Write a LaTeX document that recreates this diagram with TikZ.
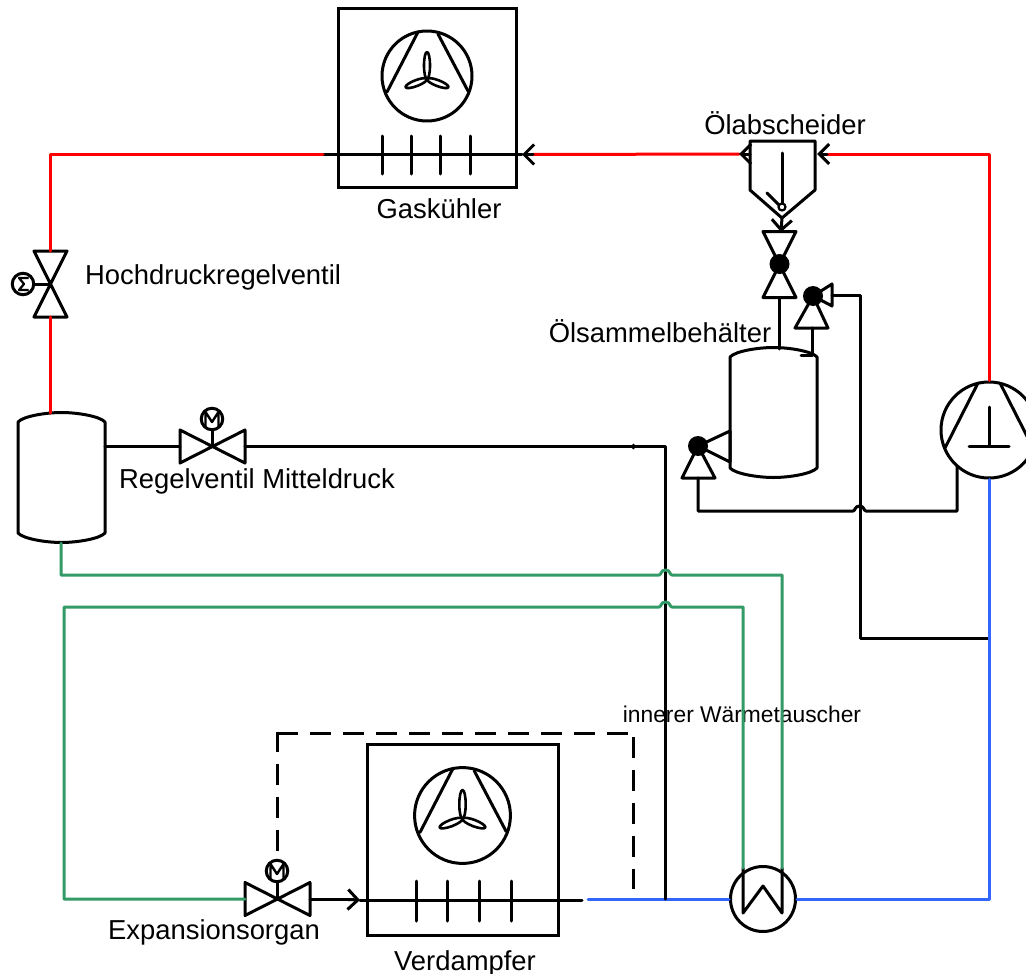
\documentclass[tikz,border=0pt]{standalone}
\usepackage{fontspec}
\setmainfont{Liberation Sans}
\usetikzlibrary{arrows.meta}

\definecolor{hotred}{HTML}{FF0000}
\definecolor{coldblue}{HTML}{3366FF}
\definecolor{midgreen}{HTML}{339966}

\tikzset{
  pipe/.style={black,line width=3pt,line join=round,line cap=round},
  hotpipe/.style={pipe,hotred},
  coldpipe/.style={pipe,coldblue},
  midpipe/.style={pipe,midgreen},
  flow/.style={-{Straight Barb[length=10pt,width=20pt,line width=3pt]}},
  lab/.style={inner sep=0pt,font=\fontsize{27.4}{27}\selectfont},
  smalllab/.style={inner sep=0pt,font=\fontsize{22.8}{23}\selectfont},
  motor/.style={circle,draw,line width=3pt,minimum size=21.5pt,inner sep=0pt},
  ball/.style={circle,fill=black,minimum size=20pt,inner sep=0pt},
  signal/.style={pipe,dash pattern=on 21pt off 12pt,line cap=butt},
  % fan in a circle, cooler and evaporator
  fanwheel/.pic={
    \draw[pipe] (0,0) circle (45);
    \draw[pipe] (-9,-44) -- (-40,16);
    \draw[pipe] (11,-42) -- (41,15);
    \draw[pipe,line width=2.6pt] (0,-10.5) ellipse (3 and 13.5);
    \foreach \ang in {201,339}
      \draw[pipe,line width=2.6pt,rotate around={\ang:(0,3)}] (11.5,3) ellipse (11.5 and 3);
  },
  % valve standing upright
  valveup/.pic={
    \draw[pipe] (-16.5,-33) -- (16.5,-33) -- (-16.5,33) -- (16.5,33) -- cycle;
    \coordinate (-top) at (0,-33);
    \coordinate (-bot) at (0,33);
  },
  % valve lying down
  valveflat/.pic={
    \draw[pipe] (-32.5,-16.5) -- (-32.5,16.5) -- (32.5,-16.5) -- (32.5,16.5) -- cycle;
    \coordinate (-left) at (-32.5,0);
    \coordinate (-right) at (32.5,0);
  },
  % pressure vessel
  vessel/.pic={
    \draw[pipe] (-43.5,-56) .. controls (-38,-62) and (-15,-65.5) .. (0,-65.5)
      .. controls (15,-65.5) and (38,-62) .. (43.5,-56) -- (43.5,55)
      .. controls (38,61) and (15,64.5) .. (0,64.5)
      .. controls (-15,64.5) and (-38,61) .. (-43.5,55) -- cycle;
  },
  % M drive on top of a valve
  mdrive/.pic={
    \draw[pipe,line width=2.4pt] (-6.5,7) -- (-6.5,-7) -- (0,3) -- (6.5,-7) -- (6.5,7);
  }
}

\begin{document}
\begin{tikzpicture}[x=1pt,y=-1pt]
  \useasboundingbox (0,0) rectangle (1026,974);

  % gas cooler
  \node[draw,line width=3pt,minimum width=178pt,minimum height=178pt,inner sep=0pt] (gasbox) at (427,98) {};
  \pic at (427,76) {fanwheel};
  \coordinate (gasin) at (522,154.5);
  \coordinate (gasinr) at (533,154.5);
  \coordinate (gasout) at (323,154.5);
  \draw[pipe] (gasout) -- (gasin);
  \foreach \xx in {382,411,440.5,470}
    \draw[pipe] (\xx,136) -- (\xx,174);
  \node[lab] (gaslabel) at (439,209) {Gaskühler};

  % evaporator
  \node[draw,line width=3pt,minimum width=191pt,minimum height=191pt,inner sep=0pt] (evapbox) at (462.5,839.5) {};
  \pic[scale=1.065] at (462.5,815.5) {fanwheel};
  \coordinate (evapin) at (360,900);
  \coordinate (evapout) at (582,900);
  \draw[pipe] (evapin) -- (evapout);
  \foreach \xx in {416,447.5,479,511}
    \draw[pipe] (\xx,881) -- (\xx,921);
  \node[lab] (evaplabel) at (465,963) {Verdampfer};

  % oil separator
  \coordinate (septip) at (782,218);
  \coordinate (sepleft) at (739,154);
  \coordinate (sepright) at (817,154);
  \draw[pipe] (750,141) -- (815,141) -- (815,190) -- (septip) -- (750,190) -- cycle;
  \draw[pipe] (782,153) -- (782,204);
  \draw[pipe] (767,193) -- (779,205);
  \node[circle,draw,fill=white,line width=2.2pt,minimum size=7pt,inner sep=0pt] (sepfloat) at (782,207) {};
  \node[lab] (seplabel) at (785,123) {Ölabscheider};

  % oil valves
  \pic (oilvalve) at (779.5,264.5) {valveup};
  \node[ball] (oilball) at (779.5,264) {};
  \draw[pipe,flow] (septip) -- (781,232);

  \draw[pipe] (795,328) -- (828,328) -- (813,296) -- (832,284) -- (832,306) -- (813,296) -- cycle;
  \node[ball] (backball) at (813,296) {};
  \coordinate (backport) at (832,295);
  \coordinate (backdown) at (812,328);

  \draw[pipe] (682,478) -- (715,478) -- (698,446) -- (730,431) -- (730,462) -- (698,446) -- cycle;
  \node[ball] (sumpball) at (698,446) {};
  \coordinate (sumpport) at (698,478);

  % oil tank
  \pic at (773.5,413) {vessel};
  \coordinate (tankfeed) at (779.5,349);
  \coordinate (tankback) at (812,355);
  \draw[pipe] (oilvalve-bot) -- (tankfeed);
  \draw[pipe] (backdown) -- (tankback) -- (801,355);
  \node[lab] (tanklabel) at (660,331) {Ölsammelbehälter};

  % compressor
  \node[circle,draw,line width=3pt,minimum size=96pt,inner sep=0pt] (comp) at (989,430) {};
  \draw[pipe] (978,383) -- (945,448);
  \draw[pipe] (1000,383) -- (1033,448);
  \draw[pipe] (989,407) -- (989,446);
  \draw[pipe] (969,446) -- (1009,446);

  % oil return lines
  \coordinate (hopoila) at (853,511);
  \coordinate (hopoiltop) at (859.5,506);
  \coordinate (hopoilb) at (866,511);
  \coordinate (sumpcorner) at (698,511);
  \coordinate (compoil) at (957,466);
  \draw[pipe] (sumpport) -- (sumpcorner) -- (hopoila) .. controls +(2.5,0) and +(-5,0) .. (hopoiltop) .. controls +(5,0) and +(-2.5,0) .. (hopoilb) -- (957,511) -- (compoil);
  \coordinate (suctionjoin) at (989,638);
  \draw[pipe] (backport) -- (860,295) -- (860,638) -- (suctionjoin);

  % receiver
  \pic at (61.5,478) {vessel};
  \coordinate (recvtop) at (50.5,413);
  \coordinate (recvbot) at (61,543);
  \coordinate (recvside) at (105,446.5);

  % high pressure valve
  \pic (hpvalve) at (50.5,284) {valveup};
  \node[motor] (hpsensor) at (23,284) {};
  \draw[pipe] (hpsensor) -- (50.5,284);
  \draw[pipe,line width=2.2pt] (28,278) -- (19,278) -- (24,284) -- (19,290) -- (28,290);
  \node[lab,anchor=west] (hplabel) at (85,277) {Hochdruckregelventil};

  % medium pressure valve
  \pic (mpvalve) at (212.5,446.5) {valveflat};
  \node[motor] (mpdrive) at (212,419) {};
  \draw[pipe] (mpdrive) -- (212,446);
  \pic at (212,419) {mdrive};
  \node[lab] (mplabel) at (257,481) {Regelventil Mitteldruck};

  % expansion valve
  \pic (expvalve) at (277.5,899) {valveflat};
  \node[motor] (expdrive) at (277,871) {};
  \draw[pipe] (expdrive) -- (277,898);
  \pic at (277,871) {mdrive};
  \node[lab] (explabel) at (214,932) {Expansionsorgan};

  % inner heat exchanger
  \node[circle,draw,line width=3pt,minimum size=65pt,inner sep=0pt] (ihx) at (763,899) {};
  \coordinate (ihxa) at (743,868);
  \coordinate (ihxb) at (782,868);
  \draw[pipe] (ihxa) -- (743,913) -- (763,886) -- (782,913) -- (ihxb);
  \node[smalllab] (ihxlabel) at (742,714) {innerer Wärmetauscher};

  % red lines
  \draw[hotpipe] (gasout) -- (50.5,154.5) -- (hpvalve-top);
  \draw[hotpipe] (hpvalve-bot) -- (recvtop);
  \draw[hotpipe] (comp.north) -- (989,154) -- (827,154);
  \draw[hotpipe] (sepleft) -- (gasinr);
  \draw[pipe,flow] (827,154) -- (sepright);
  \draw[pipe,flow] (750,154) -- (sepleft);
  \draw[pipe,flow] (gasinr) -- (gasin);

  % black middle pressure line
  \coordinate (midjoin) at (665,899);
  \draw[pipe] (recvside) -- (mpvalve-left);
  \draw[pipe] (mpvalve-right) -- (665,446.5) -- (midjoin);
  \draw[pipe] (633,445) -- (633,448);
  \draw[pipe] (expvalve-right) -- (350,899);
  \draw[pipe,flow] (348,899.5) -- (evapin);

  % dashed signal line
  \coordinate (sensepoint) at (633,889);
  \draw[signal] (277,851) -- (277,731.6);
  \draw[signal] (277,733) -- (633,733);
  \draw[signal] (633,737) -- (sensepoint);

  % blue lines
  \draw[coldpipe] (comp.south) -- (suctionjoin) -- (989,899) -- (ihx.east);
  \draw[coldpipe] (ihx.west) -- (588,899);
  \draw[pipe] (midjoin) -- (665,890);

  % green lines
  \coordinate (hopa) at (659,575);
  \coordinate (hopatop) at (665.5,570);
  \coordinate (hopb) at (672,575);
  \coordinate (hopc) at (659,607);
  \coordinate (hopctop) at (665.5,602);
  \coordinate (hopd) at (672,607);
  \draw[midpipe] (recvbot) -- (61,575) -- (hopa) .. controls +(2.5,0) and +(-5,0) .. (hopatop) .. controls +(5,0) and +(-2.5,0) .. (hopb) -- (782,575) -- (ihxb);
  \draw[midpipe] (expvalve-left) -- (64,899) -- (64,607) -- (hopc) .. controls +(2.5,0) and +(-5,0) .. (hopctop) .. controls +(5,0) and +(-2.5,0) .. (hopd) -- (743,607) -- (ihxa);
\end{tikzpicture}
\end{document}
